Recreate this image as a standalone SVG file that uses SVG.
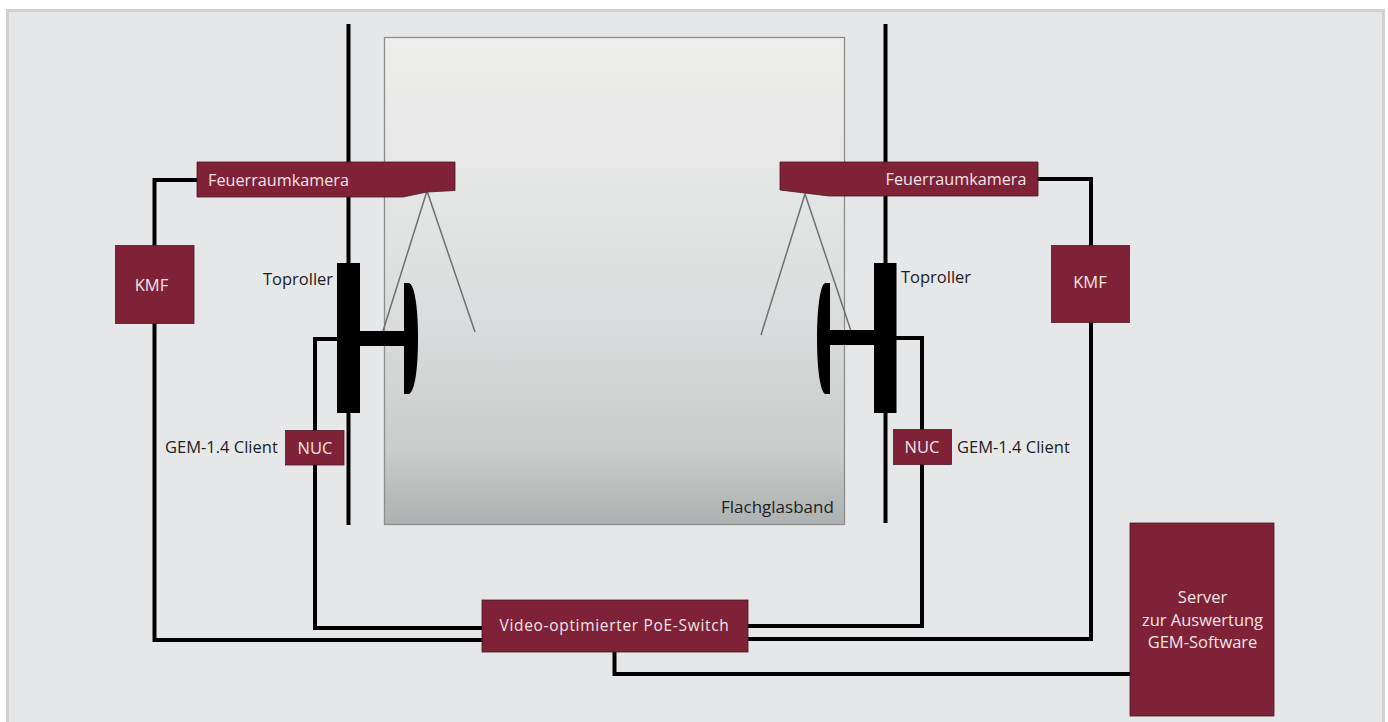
<svg xmlns="http://www.w3.org/2000/svg" width="1388" height="722" viewBox="0 0 1388 722">
<style>
.box{fill:#7f2137;stroke:#4a1a26;stroke-width:.8}
.w{fill:none;stroke:#000;stroke-width:4}
.k{fill:#000}
.cone{fill:none;stroke:#6f6f6f;stroke-width:1.5}
text{font-family:"Open Sans","Noto Sans","Liberation Sans",sans-serif;font-size:16.5px}
.l{fill:#f3e4e6;text-anchor:middle}
.d{fill:#1d1d22}
.cam{font-size:16.2px}
.sw{font-size:15.500px;letter-spacing:.68px}
.fl{font-size:17px}
</style>
<defs>
<linearGradient id="glass" x1="0" y1="0" x2="0" y2="1">
<stop offset="0" stop-color="#eeeeec"/>
<stop offset=".3" stop-color="#e5e6e6"/>
<stop offset=".6" stop-color="#d9dbdc"/>
<stop offset=".85" stop-color="#cacbcb"/>
<stop offset="1" stop-color="#aeb1b1"/>
</linearGradient>
</defs>
<rect width="1388" height="722" fill="#fff"/>
<path d="M7.500 722V10.500H1383.500V722" fill="#e6e7e8" stroke="#d0d1d3" stroke-width="3"/>
<g id="glass-band">
<rect x="384.500" y="37.500" width="460" height="487" fill="url(#glass)" stroke="#8e8e8c" stroke-width="1.300"/>
<text class="d fl" x="721" y="513">Flachglasband</text>
</g>
<g id="connectors">
<path class="w" d="M348.500 24V525"/>
<path class="w" d="M885.500 24V523"/>
<path class="w" d="M197 180H154.500V640H482"/>
<path class="w" d="M337 339H315V628H482"/>
<path class="w" d="M1038 179H1091V639H748"/>
<path class="w" d="M896 338H922V626H748"/>
<path class="w" d="M614.500 652V674H1130"/>
</g>
<g id="left-roller">
<path class="cone" d="M383 331L427 191L475 332"/>
<rect class="k" x="337" y="263" width="23" height="150"/>
<rect class="k" x="360" y="331" width="45" height="15"/>
<path class="k" d="M404 283H409C415 285 418 310 418 338C418 368 415 391 409 394H404Z"/>
<text class="d" x="263" y="285">Toproller</text>
</g>
<g id="right-roller">
<path class="cone" d="M761 335L805 194L851 331"/>
<rect class="k" x="874" y="263" width="22.500" height="150"/>
<rect class="k" x="829" y="330" width="45" height="15"/>
<path class="k" d="M830 283H825C820 285 817 310 817 338C817 368 820 391 825 394H830Z"/>
<text class="d" x="901" y="283">Toproller</text>
</g>
<g id="left-camera">
<path class="box" d="M197 162H455V190.500L427 192L403 197H197Z"/>
<text class="l cam" x="278.500" y="186">Feuerraumkamera</text>
</g>
<g id="right-camera">
<path class="box" d="M780 162H1038V196H829L780 190Z"/>
<text class="l cam" x="956" y="185">Feuerraumkamera</text>
</g>
<g id="left-kmf">
<rect class="box" x="115.500" y="245.500" width="78.500" height="78"/>
<text class="l" x="151.500" y="291">KMF</text>
</g>
<g id="right-kmf">
<rect class="box" x="1051.500" y="245.500" width="78" height="77"/>
<text class="l" x="1090" y="288">KMF</text>
</g>
<g id="left-nuc">
<rect class="box" x="285.500" y="430.500" width="58.500" height="34.500"/>
<text class="l" x="315" y="454">NUC</text>
<text class="d" x="165" y="453">GEM-1.4 Client</text>
</g>
<g id="right-nuc">
<rect class="box" x="893.500" y="429.500" width="58" height="35"/>
<text class="l" x="922" y="453">NUC</text>
<text class="d" x="957" y="453">GEM-1.4 Client</text>
</g>
<g id="switch">
<rect class="box" x="482" y="600" width="266" height="52"/>
<text class="l sw" x="614.500" y="631">Video-optimierter PoE-Switch</text>
</g>
<g id="server">
<rect class="box" x="1130" y="523" width="144" height="193"/>
<text class="l" x="1202.500" y="603">Server</text>
<text class="l" x="1202.500" y="626">zur Auswertung</text>
<text class="l" x="1202.500" y="648">GEM-Software</text>
</g>
</svg>
